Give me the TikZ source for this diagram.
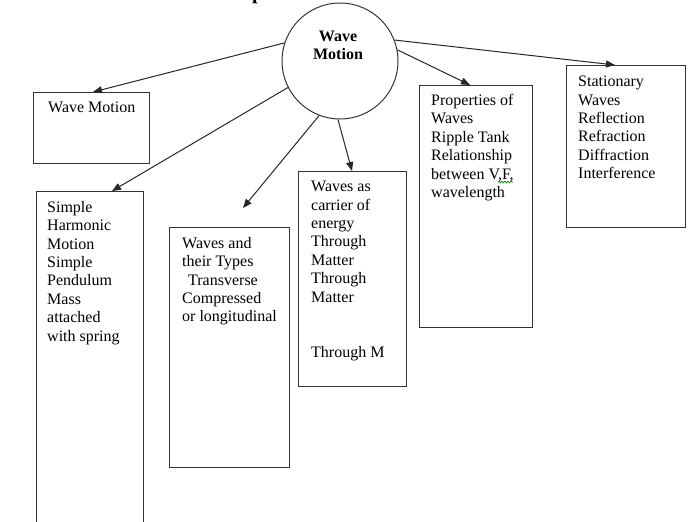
\documentclass[tikz,border=0pt]{standalone}
\usepackage{fontspec}
\setmainfont{Liberation Serif}
\usetikzlibrary{arrows.meta,decorations.pathmorphing}
\begin{document}
\begin{tikzpicture}[x=1pt,y=-1pt,
  box/.style={draw=black!80, line width=1.1pt, rectangle, anchor=north west, inner sep=0pt},
  txt/.style={anchor=north west, inner sep=0pt, align=left, font=\fontsize{16}{18.4}\selectfont},
  link/.style={draw=black!85, line width=1pt, -{Triangle[length=9pt,width=7pt]}},
  hub/.style={circle, draw=black!80, line width=1pt, minimum size=116pt, inner sep=0pt}]
\useasboundingbox (0,0) rectangle (700,521);
\clip (0,0) rectangle (700,521);

% heading, cut by the top edge
\node[font=\bfseries\fontsize{20}{24}\selectfont, anchor=base west, inner sep=0pt] (head) at (252,0) {p};

% central topic
\node[hub] (hub) at (340,61) {};
\node[font=\bfseries\fontsize{16}{18}\selectfont, align=center, anchor=north, inner sep=0pt] (hubtitle) at (338,31) {Wave\\Motion};

% sub-topic frames
\node[box, minimum width=116pt, minimum height=71pt]  (wm)      at (33,92)  {};
\node[box, minimum width=107pt, minimum height=345pt] (shm)     at (36,191) {};
\node[box, minimum width=120pt, minimum height=240pt] (types)   at (169,227) {};
\node[box, minimum width=108pt, minimum height=215pt] (carrier) at (298,171) {};
\node[box, minimum width=113pt, minimum height=242pt] (props)   at (419,85) {};
\node[box, minimum width=119pt, minimum height=162pt] (stat)    at (566,65) {};

% sub-topic texts
\node[txt] (wmtext)      at (48,102)  {Wave Motion};
\node[txt] (shmtext)     at (47,201)  {Simple\\Harmonic\\Motion\\Simple\\Pendulum\\Mass\\attached\\with spring};
\node[txt] (typestext)   at (182,237) {Waves and\\their Types\\\hspace{6pt}Transverse\\Compressed\\or longitudinal};
\node[txt] (carriertext) at (311,181) {Waves as\\carrier of\\energy\\Through\\Matter\\Through\\Matter\\[36.8pt]Through M};
\node[txt] (propstext)   at (431,94)  {Properties of\\Waves\\Ripple Tank\\Relationship\\between V,F,\\wavelength};
\node[txt] (stattext)    at (578,76)  {Stationary\\Waves\\Reflection\\Refraction\\Diffraction\\Interference};

% spelling mark under "F,"
\draw[green!55!black, line width=0.7pt, decorate, decoration={snake, amplitude=0.9pt, segment length=3pt}] (498,182) -- (513,182);

% connectors from the central topic
\draw[link] (hub.162.5) -- ([xshift=60pt]wm.north west);
\draw[link] (hub.207.8) -- ([xshift=76pt]shm.north west);
\draw[link] (hub.249.4) -- ([xshift=74pt,yshift=19pt]types.north west);
\draw[link] (hub.268)   -- ([xshift=54pt]carrier.north west);
\draw[link] (hub.11)    -- ([xshift=51pt]props.north west);
\draw[link] (hub.21.6)  -- ([xshift=49pt]stat.north west);
\end{tikzpicture}
\end{document}
